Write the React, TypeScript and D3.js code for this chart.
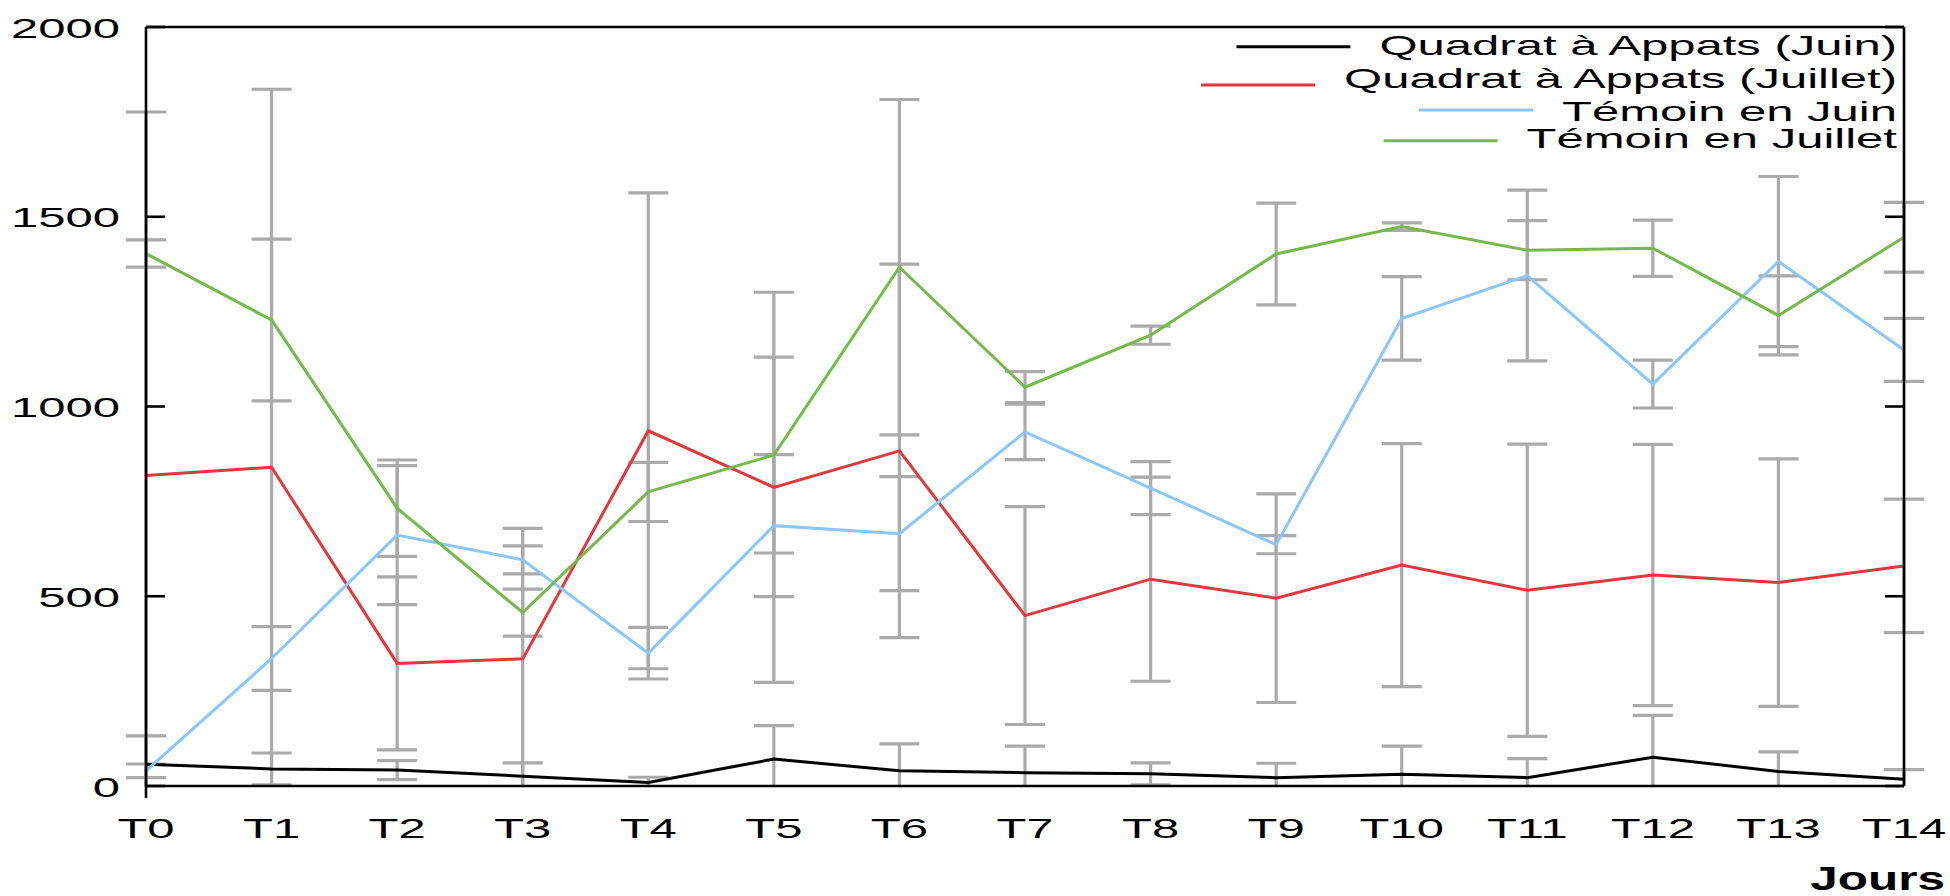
import React, { useEffect, useRef } from "react";
import * as d3 from "d3";

const categories = ["T0","T1","T2","T3","T4","T5","T6","T7","T8","T9","T10","T11","T12","T13","T14"];
const yTicks = [0, 500, 1000, 1500, 2000];

const quadratJuin = [57, 45, 42, 26, 9, 71, 40, 35, 32, 22, 31, 22, 76, 38, 18];
const quadratJuinErr = [75, 42, 25, 35, 14, 88, 71, 70, 29, 38, 74, 50, 110, 52, 25];
const quadratJuillet = [818, 840, 323, 335, 936, 787, 883, 449, 545, 495, 582, 516, 556, 536, 580];
const quadratJuilletErr = [958, 996, 228, 344, 627, 514, 492, 287, 269, 275, 320, 385, 344, 326, 176];
const temoinJuin = [40, 336, 661, 596, 350, 686, 665, 933, 785, 636, 1232, 1345, 1059, 1382, 1149];
const temoinJuinErr = [18, 84, 183, 37, 68, 187, 150, 73, 70, 24, 110, 225, 63, 224, 83];
const temoinJuillet = [1403, 1228, 732, 457, 775, 872, 1367, 1051, 1188, 1402, 1474, 1412, 1417, 1240, 1446];
const temoinJuilletErr = [36, 213, 127, 62, 78, 258, 442, 41, 24, 134, 10, 78, 74, 104, 92];

const seriesNames = [
  "Quadrat à Appats (Juin)",
  "Quadrat à Appats (Juillet)",
  "Témoin en Juin",
  "Témoin en Juillet",
];
const seriesColors = ["#000000", "#e0383e", "#8cc6f6", "#76b84b"];
const seriesValues = [quadratJuin, quadratJuillet, temoinJuin, temoinJuillet];
const seriesErrors = [quadratJuinErr, quadratJuilletErr, temoinJuinErr, temoinJuilletErr];

const W = 1950, H = 896;
const M = { left: 146, right: 1904, top: 27, bottom: 786 };
const FONT = "'Liberation Sans', Arial, sans-serif";
const FS = 28.5;
const SX = 1.72;

export default function App() {
  const ref = useRef<SVGSVGElement>(null);
  useEffect(() => {
    const svg = d3.select(ref.current);
    svg.selectAll("*").remove();
    const x = d3.scalePoint<string>().domain(categories).range([M.left, M.right]);
    const y = d3.scaleLinear().domain([0, 2000]).range([M.bottom, M.top]);
    const clamp = (v: number) => Math.max(0, Math.min(2000, v));

    svg.append("rect").attr("width", W).attr("height", H).attr("fill", "#ffffff");

    const stretchText = (g: any, tx: number, ty: number, txt: string, anchor: string, weight = "normal", fs = FS, sx = SX) => {
      const gg = g.append("g").attr("transform", `translate(${tx},${ty}) scale(${sx},1)`);
      return gg.append("text")
        .attr("text-anchor", anchor)
        .attr("font-family", FONT)
        .attr("font-size", fs)
        .attr("font-weight", weight)
        .attr("fill", "#000")
        .text(txt);
    };

    // error bars
    const eb = svg.append("g").attr("stroke", "#aaaaaa").attr("stroke-width", 3.2).attr("fill", "none");
    seriesValues.forEach((vals, si) => {
      const errs = seriesErrors[si];
      vals.forEach((v, i) => {
        const cx = x(categories[i])!;
        const hi = v + errs[i];
        const lo = v - errs[i];
        eb.append("line").attr("x1", cx).attr("x2", cx).attr("y1", y(clamp(hi))).attr("y2", y(clamp(lo)));
        [hi, lo].forEach((e) => {
          if (e >= 0 && e <= 2000) {
            eb.append("line").attr("x1", cx - 20).attr("x2", cx + 20).attr("y1", y(e)).attr("y2", y(e));
          }
        });
      });
    });

    // lines
    const line = d3.line<number>().x((_, i) => x(categories[i])!).y((d) => y(d));
    seriesValues.forEach((vals, si) => {
      svg.append("path").attr("d", line(vals)!).attr("fill", "none")
        .attr("stroke", seriesColors[si]).attr("stroke-width", 3).attr("stroke-linejoin", "miter");
    });

    // axes frame
    const ax = svg.append("g").attr("stroke", "#000").attr("stroke-width", 2.6).attr("fill", "none");
    ax.append("line").attr("x1", M.left).attr("x2", M.left).attr("y1", M.top).attr("y2", M.bottom + 12);
    ax.append("line").attr("x1", M.left).attr("x2", M.right).attr("y1", M.bottom).attr("y2", M.bottom);
    ax.append("line").attr("x1", M.left).attr("x2", M.right).attr("y1", M.top).attr("y2", M.top);
    ax.append("line").attr("x1", M.right).attr("x2", M.right).attr("y1", M.top).attr("y2", M.bottom);
    yTicks.forEach((t) => {
      ax.append("line").attr("x1", M.left).attr("x2", M.left + 19).attr("y1", y(t)).attr("y2", y(t));
      ax.append("line").attr("x1", M.right - 19).attr("x2", M.right).attr("y1", y(t)).attr("y2", y(t));
    });

    // tick labels
    const lab = svg.append("g");
    yTicks.forEach((t) => stretchText(lab, 120, y(t) + 10.5, String(t), "end"));
    categories.forEach((c) => stretchText(lab, x(c)!, 838, c, "middle"));
    stretchText(lab, 1945, 890, "Jours", "end", "bold", 33, 1.5);

    // legend
    const legBase = [55, 88, 120.5, 148];
    const legLineY = [46.7, 85, 110, 140.7];
    const leg = svg.append("g");
    seriesNames.forEach((name, i) => {
      const t = stretchText(leg, 1897, legBase[i], name, "end");
      const w = (t.node() as SVGTextElement).getComputedTextLength() * SX;
      const start = 1897 - w;
      leg.append("line").attr("x1", start - 29 - 114).attr("x2", start - 29)
        .attr("y1", legLineY[i]).attr("y2", legLineY[i])
        .attr("stroke", seriesColors[i]).attr("stroke-width", 3);
    });
  }, []);
  return (
    <svg ref={ref} width={W} height={H} style={{ position: "absolute", left: 0, top: 0, display: "block" }} />
  );
}
